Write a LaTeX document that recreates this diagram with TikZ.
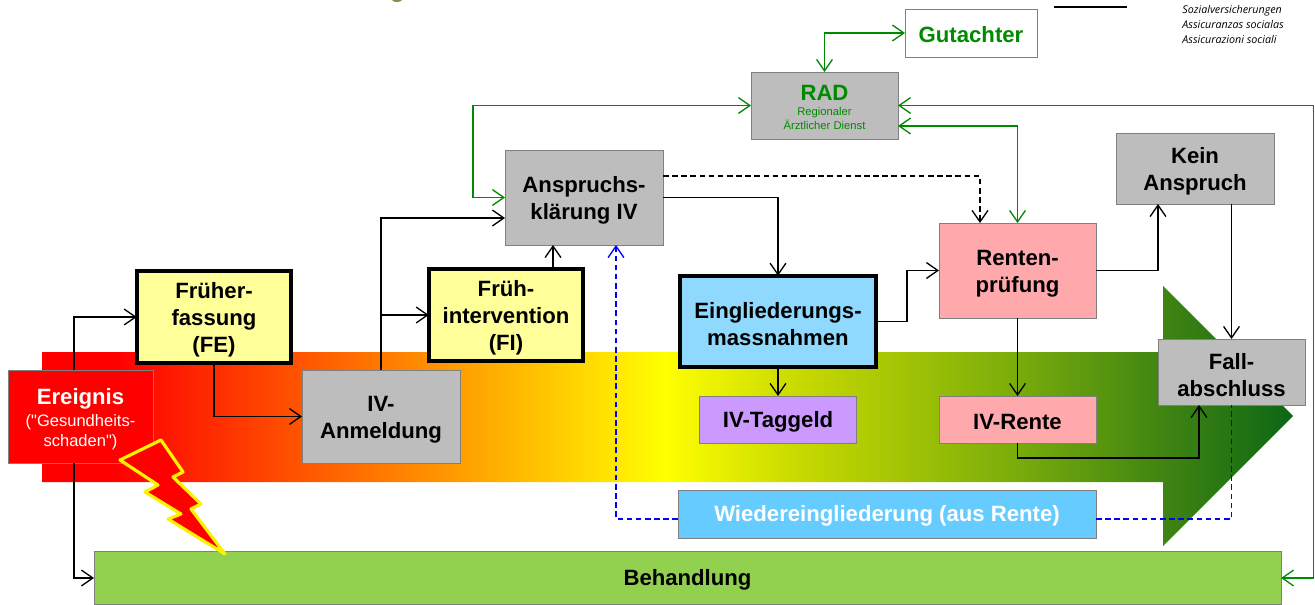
\documentclass[tikz,border=0pt]{standalone}
\usepackage{fontspec}
\setmainfont{Liberation Sans}
\newfontfamily\kleinfont{Liberation Sans}
\newfontfamily\swissfont{Open Sans}
\usetikzlibrary{arrows.meta}

\definecolor{gruenlinie}{HTML}{008A00}
\definecolor{grau}{HTML}{BDBDBD}
\definecolor{hellgelb}{HTML}{FFFF99}
\definecolor{rosa}{HTML}{FFA9AD}
\definecolor{hellblau}{HTML}{8FD9FF}
\definecolor{lila}{HTML}{CC99FF}
\definecolor{wiederblau}{HTML}{66CCFF}
\definecolor{behandlungsgruen}{HTML}{92D050}

\newcommand{\ereignisklein}{\kleinfont\mdseries\fontsize{9.4}{11.4}\selectfont}
\newcommand{\radklein}{\kleinfont\mdseries\fontsize{6.4}{8.2}\selectfont}

% horizontal run of the big arrow: 25bp is its tail, 75bp its tip
\pgfdeclarehorizontalshading{verlauf}{100bp}{
  color(0bp)=(red);
  color(28bp)=(red);
  rgb(41.3bp)=(1,0.6,0);
  color(49.9bp)=(yellow);
  rgb(55.3bp)=(0.78,0.85,0);
  rgb(63.3bp)=(0.5,0.69,0.04);
  rgb(69.8bp)=(0.25,0.52,0.07);
  rgb(75bp)=(0.05,0.4,0.08);
  rgb(100bp)=(0.05,0.4,0.08)}

\tikzset{
  textlage/.style={execute at begin node=\rule{0pt}{#1}},
  box/.style={draw=black!50, align=center, font=\bfseries\fontsize{12.6}{15.4}\selectfont, inner sep=0pt, outer sep=0pt, textlage=11.5pt},
  zweizeilig/.style={textlage=28pt},
  dreizeilig/.style={textlage=43pt},
  graubox/.style={box, fill=grau},
  gelbbox/.style={box, dreizeilig, draw=black, line width=2.2pt, fill=hellgelb},
  rosabox/.style={box, fill=rosa},
  lauf/.style={draw, line width=0.75pt, -{Straight Barb[length=6.5pt,width=9pt]}},
  gruen/.style={lauf, draw=gruenlinie, {Straight Barb[length=6.5pt,width=9pt]}-{Straight Barb[length=6.5pt,width=9pt]}},
  strich/.style={dash pattern=on 3.2pt off 2pt},
  blau/.style={draw=blue, line width=0.75pt, strich}
}

\begin{document}
\begin{tikzpicture}
  \useasboundingbox (0,0) rectangle (26.3,12.08);

  % big arrow behind the boxes
  \path[shading=verlauf] (0.84,5.04) -- (23.26,5.04) -- (23.26,6.36) -- (25.86,3.76) -- (23.26,1.16) -- (23.26,2.44) -- (0.84,2.44) -- cycle;

  \fill[black!50!yellow] (7.84,12.08) arc (180:360:0.1 and 0.04) -- cycle; % cut off title
  \draw[line width=0.6pt] (21.08,11.94) -- (22.54,11.94);
  \node[anchor=north west, inner sep=0pt, align=left, font=\swissfont\itshape\fontsize{6.1}{8.5}\selectfont] (amt) at (23.64,11.98) {Sozialversicherungen\\Assicuranzas socialas\\Assicurazioni sociali};

  \node[box, textlage=35.6pt, fill=red, text=white, minimum width=2.9cm, minimum height=1.86cm] (ereignis) at (1.61,3.75) {Ereignis\\[-2.9pt]{\ereignisklein ("Gesundheits-}\\[-4pt]{\ereignisklein schaden")}};
  \node[gelbbox, minimum width=3.09cm, minimum height=1.85cm] (frueh) at (4.28,5.74) {Früher-\\fassung\\(FE)};
  \node[graubox, zweizeilig, minimum width=3.16cm, minimum height=1.86cm] (anmeldung) at (7.62,3.75) {IV-\\Anmeldung};
  \node[gelbbox, minimum width=3.09cm, minimum height=1.85cm] (intervention) at (10.12,5.78) {Früh-\\intervention\\(FI)};
  \node[graubox, zweizeilig, minimum width=3.16cm, minimum height=1.9cm] (anspruch) at (11.68,8.13) {Anspruchs-\\klärung IV};
  \node[box, zweizeilig, draw=black, line width=2.2pt, fill=hellblau, minimum width=3.92cm, minimum height=1.83cm] (eingliederung) at (15.56,5.65) {Eingliederungs-\\massnahmen};
  \node[box, fill=lila, minimum width=3.14cm, minimum height=0.94cm] (taggeld) at (15.56,3.69) {IV-Taggeld};
  \node[rosabox, zweizeilig, minimum width=3.14cm, minimum height=1.9cm] (pruefung) at (20.35,6.67) {Renten-\\prüfung};
  \node[rosabox, minimum width=3.14cm, minimum height=0.94cm] (rente) at (20.35,3.69) {IV-Rente};
  \node[graubox, zweizeilig, minimum width=3.16cm, minimum height=1.42cm] (kein) at (23.9,8.71) {Kein\\Anspruch};
  \node[graubox, zweizeilig, minimum width=2.94cm, minimum height=1.32cm] (abschluss) at (24.63,4.64) {Fall-\\abschluss};
  \node[graubox, textlage=27.8pt, text=gruenlinie, minimum width=2.94cm, minimum height=1.34cm] (rad) at (16.49,9.97) {RAD\\[-6.9pt]{\radklein Regionaler}\\[-7.2pt]{\radklein Ärztlicher Dienst}};
  \node[box, text=gruenlinie, fill=white, minimum width=2.64cm, minimum height=0.96cm] (gutachter) at (19.42,11.42) {Gutachter};
  \node[box, text=white, fill=wiederblau, minimum width=8.36cm, minimum height=0.96cm] (wieder) at (17.74,1.8) {Wiedereingliederung (aus Rente)};
  \node[box, fill=behandlungsgruen, minimum width=23.74cm, minimum height=1.06cm] (behandlung) at (13.75,0.52) {Behandlung};
  \coordinate (rand) at (26.27,0);

  \draw[lauf] ([xshift=-0.13cm]ereignis.north) |- (frueh.west);
  \draw[lauf] ([xshift=-0.13cm]ereignis.south) |- (behandlung.west);
  \draw[lauf] (frueh.south) |- (anmeldung.west);
  \draw[lauf] (anmeldung.north) |- ([yshift=-0.41cm]anspruch.west);
  \draw[lauf] (anmeldung.north |- intervention.west) -- (intervention.west);
  \draw[lauf] ([xshift=0.94cm]intervention.north) -- ([xshift=-0.62cm]anspruch.south);
  \draw[lauf] (anspruch.east) -| (eingliederung.north);
  \draw[lauf, strich] ([yshift=0.43cm]anspruch.east) -| ([xshift=-0.75cm]pruefung.north);
  \draw[lauf] (eingliederung.east) -- ++(0.62,0) |- (pruefung.west);
  \draw[lauf] (eingliederung.south) -- (taggeld.north);
  \draw[lauf] (pruefung.east) -| ([xshift=-0.74cm]kein.south);
  \draw[lauf] (kein.south -| abschluss.north) -- (abschluss.north);
  \draw[lauf] (pruefung.south) -- (rente.north);
  \draw[lauf] (rente.south) -- ++(0,-0.3) -| ([xshift=-0.65cm]abschluss.south);

  \draw[gruen] (rad.west) -| ([xshift=-0.64cm]anspruch.west) -- (anspruch.west);
  \draw[gruen] (gutachter.west) -| (rad.north);
  \draw[gruen] (rad.east) -- (rad.east -| rand) |- (behandlung.east);
  \draw[gruen] ([yshift=-0.41cm]rad.east) -| (pruefung.north);

  \draw[blau, -{Straight Barb[length=6.5pt,width=9pt]}] ([yshift=-0.1cm]wieder.west) -| ([xshift=0.64cm]anspruch.south);
  \draw[blau] ([yshift=-0.1cm]wieder.east) -| (abschluss.south);

  % lightning
  \draw[fill=red, draw=yellow, line width=1.8pt, line join=round] (2.4,2.88) -- (3.22,3.28) -- (3.66,2.64) -- (3.46,2.54) -- (4.02,2) -- (3.82,1.9) -- (4.5,1) -- (3.36,1.7) -- (3.62,1.8) -- (2.9,2.24) -- (3.16,2.38) -- cycle;
\end{tikzpicture}
\end{document}
